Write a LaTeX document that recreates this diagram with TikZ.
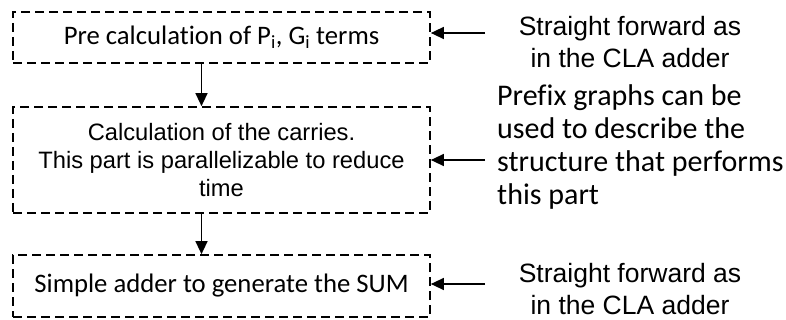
\documentclass[tikz,border=0pt]{standalone}
\usepackage{fontspec}
\setmainfont{Liberation Sans}
\newfontfamily\carfont[Ligatures=NoCommon]{Carlito}
\usetikzlibrary{arrows.meta,calc}
\begin{document}
\begin{tikzpicture}[x=1pt,y=-1pt,
  box/.style={draw,line width=1.7pt,dash pattern=on 9pt off 5pt,minimum width=417pt,inner sep=0pt,align=center},
  arr/.style={line width=1.4pt,-{Triangle[length=13pt,width=12pt]}},
  note/.style={align=center,font=\fontsize{26.5}{32}\selectfont}]
\useasboundingbox (0,0) rectangle (786,320);
\node[box,minimum height=51pt,font=\carfont\fontsize{26.7}{28}\selectfont] (b1) at (221.5,37.5) {Pre calculation of P\textsubscript{i}, G\textsubscript{i} terms};
\node[box,minimum height=106pt,font=\fontsize{23.7}{28}\selectfont] (b2) at (221.5,160) {Calculation of the carries.\\This part is parallelizable to reduce\\time};
\node[box,minimum height=62pt,font=\carfont\fontsize{26.7}{28}\selectfont] (b3) at (221.5,286) {Simple adder to generate the SUM};
\draw[arr] ([xshift=-20pt]b1.south) -- ([xshift=-20pt]b2.north);
\draw[arr] ([xshift=-20pt]b2.south) -- ([xshift=-20pt]b3.north);
\node[note] (t1) at (630,42) {Straight forward as\\in the CLA adder};
\node[note] (t3) at (630,289) {Straight forward as\\in the CLA adder};
\node[align=left,anchor=west,font=\carfont\fontsize{30}{33}\selectfont,inner sep=0pt] (t2) at (497,147) {Prefix graphs can be\\used to describe the\\structure that performs\\this part};
\coordinate (s1) at (485,33);
\coordinate (s2) at (485,160);
\coordinate (s3) at (485,284);
\draw[arr] (s1) -- (s1 -| b1.east);
\draw[arr] (s2) -- (s2 -| b2.east);
\draw[arr] (s3) -- (s3 -| b3.east);
\end{tikzpicture}
\end{document}
